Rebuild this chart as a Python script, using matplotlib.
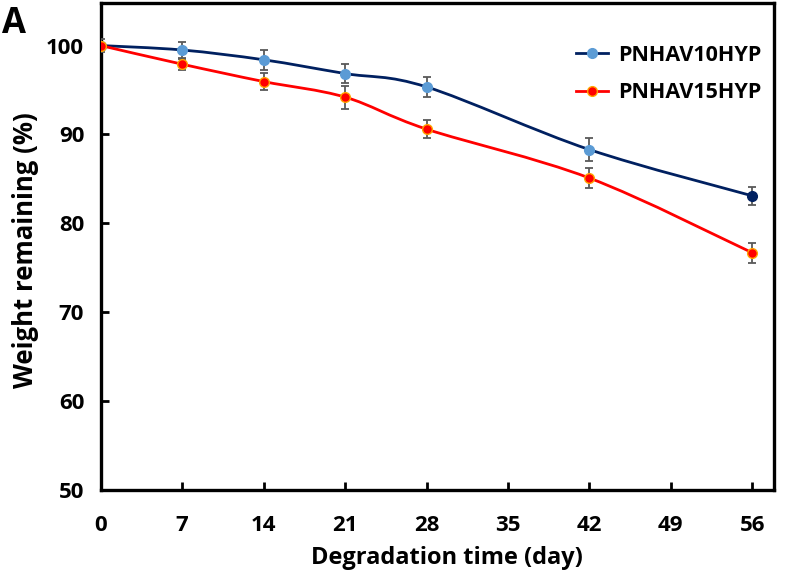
import numpy as np
import matplotlib
matplotlib.use("Agg")
import matplotlib.pyplot as plt
from matplotlib.path import Path
from matplotlib.patches import PathPatch

days = [0, 7, 14, 21, 28, 42, 56]
hyp10 = [100.0, 99.5, 98.4, 96.85, 95.35, 88.3, 83.1]
hyp10_err = [0.0, 0.9, 1.1, 1.05, 1.15, 1.3, 1.0]
hyp15 = [100.0, 97.9, 95.95, 94.2, 90.6, 85.1, 76.7]
hyp15_err = [0.7, 0.6, 1.0, 1.3, 1.05, 1.1, 1.15]

plt.rcParams["font.family"] = ["Open Sans", "DejaVu Sans"]
plt.rcParams["font.weight"] = "bold"


def smooth_path(x, y):
    # Excel-style smoothed line: cubic Bezier through the points
    x = np.asarray(x, float); y = np.asarray(y, float)
    n = len(x)
    verts = [(x[0], y[0])]; codes = [Path.MOVETO]
    for i in range(n - 1):
        p0 = np.array([x[max(i - 1, 0)], y[max(i - 1, 0)]])
        p1 = np.array([x[i], y[i]])
        p2 = np.array([x[i + 1], y[i + 1]])
        p3 = np.array([x[min(i + 2, n - 1)], y[min(i + 2, n - 1)]])
        c1 = p1 + (p2 - p0) / 6
        c2 = p2 - (p3 - p1) / 6
        verts += [tuple(c1), tuple(c2), tuple(p2)]
        codes += [Path.CURVE4] * 3
    return Path(verts, codes)


fig = plt.figure(figsize=(8, 5.72), dpi=100)
ax = fig.add_axes([0.126, 0.143, 0.842, 0.852])

navy, red = "#002060", "#FF0000"
ax.add_patch(PathPatch(smooth_path(days, hyp10), fill=False, ec=navy, lw=2, zorder=2))
ax.add_patch(PathPatch(smooth_path(days, hyp15), fill=False, ec=red, lw=2, zorder=2))

ax.errorbar(days, hyp10, yerr=hyp10_err, fmt="none", ecolor="#595959", elinewidth=1.3,
            capsize=3, capthick=1.3, zorder=3)
ax.errorbar(days, hyp15, yerr=hyp15_err, fmt="none", ecolor="#595959", elinewidth=1.3,
            capsize=3, capthick=1.3, zorder=3)

ax.plot(days[:-1], hyp10[:-1], "o", ms=7, mfc="#5B9BD5", mec="#5B9BD5", zorder=4)
ax.plot(days[-1:], hyp10[-1:], "o", ms=7, mfc=navy, mec=navy, zorder=4)
ax.plot(days, hyp15, "o", ms=7, mfc=red, mec="#FFA500", mew=1, zorder=5)

# legend proxies
ax.plot([], [], "-o", color=navy, lw=2, ms=7, mfc="#5B9BD5", mec="#5B9BD5", label="PNHAV10HYP")
ax.plot([], [], "-o", color=red, lw=2, ms=7, mfc=red, mec="#FFA500", label="PNHAV15HYP")
ax.legend(loc="upper right", frameon=False, fontsize=15.5, handlelength=1.5,
          labelspacing=0.75, handletextpad=0.45,
          bbox_to_anchor=(1.0, 0.94), borderaxespad=0.2)

ax.set_xlim(0, 57.9)
ax.set_ylim(50, 104.8)
ax.set_xticks(range(0, 57, 7))
ax.set_yticks(range(50, 101, 10))
ax.tick_params(direction="in", length=6, width=2, labelsize=16)
ax.tick_params(axis="x", pad=18)
ax.tick_params(axis="y", pad=12)
for s in ax.spines.values():
    s.set_linewidth(2.4)

ax.set_xlabel("Degradation time (day)", fontsize=17, fontweight="bold", labelpad=7)
ax.xaxis.label.set_x(0.514)
ax.set_ylabel("Weight remaining (%)", fontsize=18.5, fontweight="bold", labelpad=5)
ax.yaxis.label.set_y(0.493)
fig.text(0.002, 0.943, "A", fontsize=25, fontweight="bold")

fig.savefig("out.png", dpi=100)
